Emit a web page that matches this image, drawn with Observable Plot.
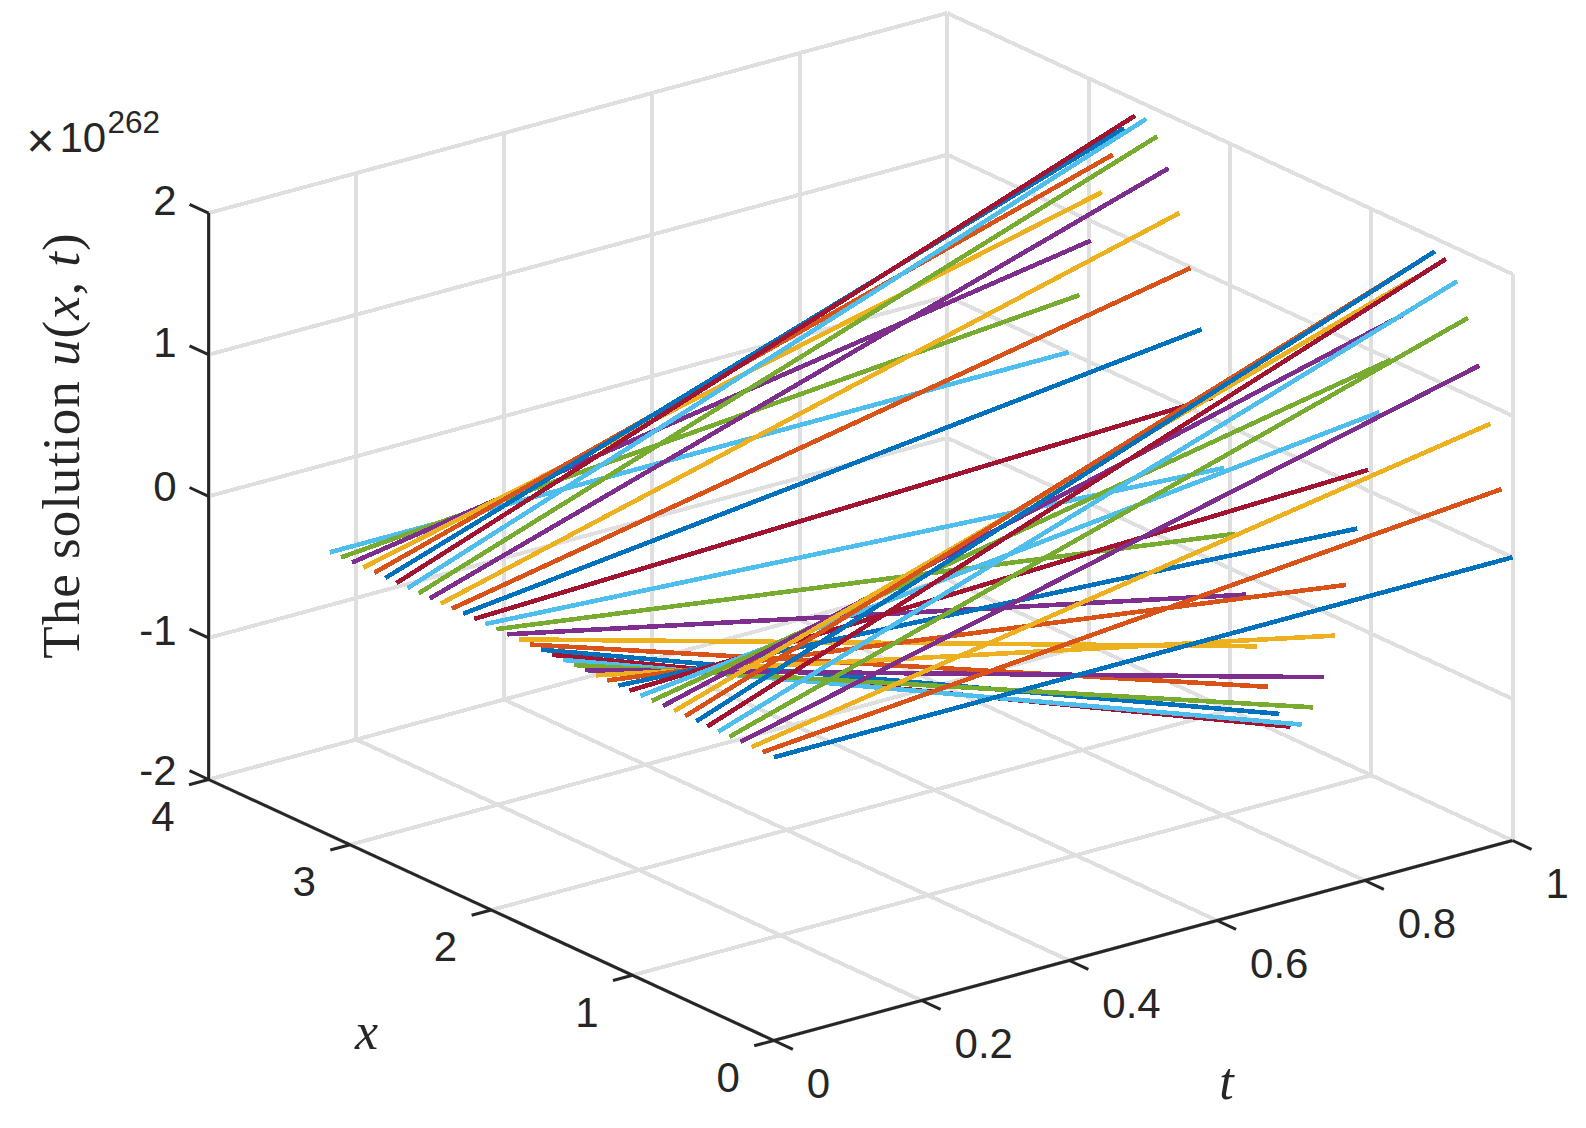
<!DOCTYPE html>
<html><head><meta charset="utf-8">
<script src="https://cdn.jsdelivr.net/npm/d3@7"></script>
<script src="https://cdn.jsdelivr.net/npm/@observablehq/plot@0.6"></script>
<style>html,body{margin:0;padding:0;background:#fff}svg{display:block}</style>
</head><body><div id="chart"></div>
<script>
// x positions of the solution curves
const xGrid = [0,.0785,.1571,.2356,.3142,.3927,.4712,.5498,.6283,.7069,.7854,.8639,.9425,1.021,1.0996,1.1781,1.2566,1.3352,1.4137,1.4923,1.5708,1.6493,1.7279,1.8064,1.885,1.9635,2.042,2.1206,2.1991,2.2777,2.3562,2.4347,2.5133,2.5918,2.6704,2.7489,2.8274,2.906,2.9845,3.0631,3.1416];
// u(x,0) in units of 1e262
const uStart = xGrid.map(() => 0);
// u(x,1) in units of 1e262
const uEnd = [0,.445,.87,1.245,1.546,1.768,1.89,1.907,1.82,1.64,1.345,.996,.59,.147,-.304,-.738,-1.132,-1.462,-1.711,-1.869,-1.92,-1.866,-1.711,-1.461,-1.132,-.739,-.31,.15,.597,.994,1.346,1.625,1.815,1.902,1.889,1.763,1.541,1.239,.861,.441,0];
const palette = ["#0072BD","#D95319","#EDB120","#7E2F8E","#77AC30","#4DBEEE","#A2142F"];
const xTicks = [0,1,2,3,4];
const tTicks = [0,.2,.4,.6,.8,1];
const tTickLabels = ["0","0.2","0.4","0.6","0.8","1"];
const zTicks = [-2,-1,0,1,2];
const zLabelNudge = [-8,-6,-9,-11,-12];

// orthographic view of the MATLAB box
const sx = (x,t) => 773.3 - 141.3*x + 738.7*t;
const sy = (x,t,z) => 1040 - 65.25*x - 200*t - 141.6*(z+2);
const grid = [];
const axes = [];
const add = (list,id,p,q) => { list.push({id,x:p[0],t:p[1],z:p[2]},{id,x:q[0],t:q[1],z:q[2]}); };
let n = 0;
for (const x of xTicks) { add(grid,n++,[x,0,-2],[x,1,-2]); add(grid,n++,[x,1,-2],[x,1,2]); }
for (const t of tTicks) { add(grid,n++,[0,t,-2],[4,t,-2]); add(grid,n++,[4,t,-2],[4,t,2]); }
for (const z of zTicks) { add(grid,n++,[4,0,z],[4,1,z]); add(grid,n++,[4,1,z],[0,1,z]); }
add(axes,n++,[4,0,-2],[4,0,2]);
add(axes,n++,[0,0,-2],[4,0,-2]);
add(axes,n++,[0,0,-2],[0,1,-2]);
for (const z of zTicks) add(axes,n++,[4,0,z],[4.135,0,z]);
for (const x of xTicks) add(axes,n++,[x,0,-2],[x,-.0265,-2]);
for (const t of tTicks) add(axes,n++,[0,t,-2],[-.135,t,-2]);

const rows = [];
for (let k = xGrid.length-1; k >= 0; k--) {
  rows.push({k,c:k%7,x:xGrid[k],t:0,z:uStart[k]},{k,c:k%7,x:xGrid[k],t:1,z:uEnd[k]});
}
const X = d => sx(d.x,d.t), Y = d => sy(d.x,d.t,d.z);
const sans = "Liberation Sans", serif = "Liberation Serif", ink = "#262626";

const chart = Plot.plot({
  width:1586, height:1128, margin:0,
  x:{axis:null,domain:[0,1586],range:[0,1586]},
  y:{axis:null,domain:[0,1128],range:[0,1128]},
  color:{type:"ordinal",domain:palette.map((_,i)=>i),range:palette},
  marks:[
    Plot.line(grid,{x:X,y:Y,z:"id",stroke:"#dfdfdf",strokeWidth:4,strokeLinecap:"butt",shapeRendering:"crispEdges"}),
    Plot.line(rows,{x:X,y:Y,z:"k",stroke:"c",strokeWidth:4.6,strokeLinecap:"butt",shapeRendering:"crispEdges"}),
    Plot.line(axes,{x:X,y:Y,z:"id",stroke:ink,strokeWidth:3,strokeLinecap:"butt"}),
    Plot.text(zTicks,{x:()=>176,y:(z,i)=>sy(4,0,z)+zLabelNudge[i],text:z=>String(z),textAnchor:"end",fontFamily:sans,fontSize:42,fill:ink}),
    Plot.text(xTicks,{x:x=>sx(x,0),y:x=>sy(x,0,-2),text:x=>String(x),dx:-34,dy:38,textAnchor:"end",fontFamily:sans,fontSize:42,fill:ink}),
    Plot.text(tTicks,{x:t=>sx(0,t),y:t=>sy(0,t,-2),text:(t,i)=>tTickLabels[i],dx:33,dy:44,textAnchor:"start",fontFamily:sans,fontSize:42,fill:ink}),
    Plot.text(["×"],{x:()=>26,y:()=>141,text:d=>d,textAnchor:"start",fontFamily:sans,fontSize:48,fill:ink}),
    Plot.text(["10"],{x:()=>59,y:()=>138,text:d=>d,textAnchor:"start",fontFamily:sans,fontSize:42,fill:ink}),
    Plot.text(["262"],{x:()=>107,y:()=>122,text:d=>d,textAnchor:"start",fontFamily:sans,fontSize:31.5,fill:ink}),
    Plot.text(["x"],{x:()=>366,y:()=>1032,text:d=>d,fontFamily:serif,fontStyle:"italic",fontSize:52,fill:ink}),
    Plot.text(["t"],{x:()=>1226,y:()=>1082,text:d=>d,fontFamily:serif,fontStyle:"italic",fontSize:52,fill:ink}),
    Plot.text(["The solution u(x,t)"],{x:()=>62,y:()=>445,text:d=>d,rotate:-90,fontFamily:serif,fontSize:53,fill:ink})
  ]
});
// italic math letters inside the z-axis title
chart.querySelectorAll("text").forEach(el => {
  if (el.textContent === "The solution u(x,t)") {
    el.textContent = "";
    el.setAttribute("letter-spacing","1");
    const parts = [["The solution ",false],["u",true],["(",false],["x",true],[", ",false],["t",true],[")",false]];
    for (const [s,it] of parts) {
      const ts = document.createElementNS("http://www.w3.org/2000/svg","tspan");
      ts.textContent = s;
      if (it) ts.setAttribute("font-style","italic");
      el.appendChild(ts);
    }
  }
});
document.getElementById("chart").appendChild(chart);
</script></body></html>
